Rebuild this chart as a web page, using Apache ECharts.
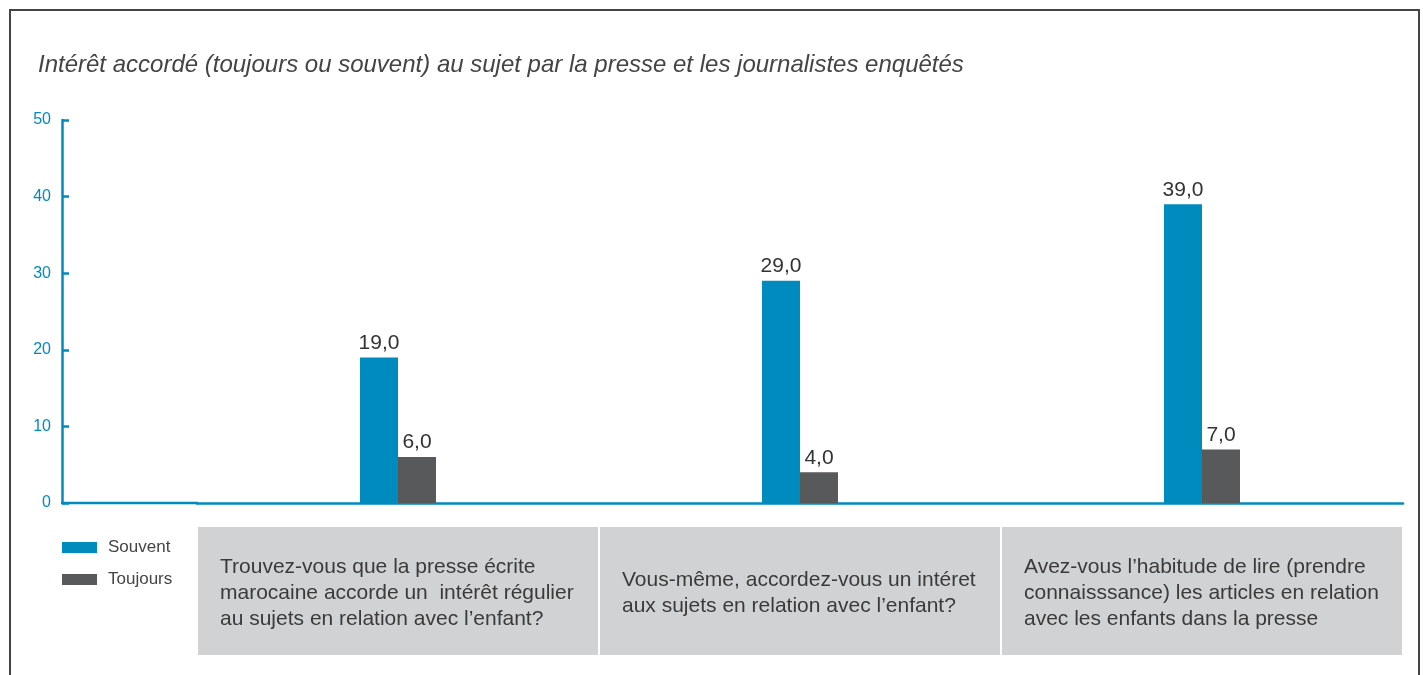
<!DOCTYPE html>
<html>
<head>
<meta charset="utf-8">
<script src="https://cdn.jsdelivr.net/npm/echarts@6/dist/echarts.min.js"></script>
<style>
	html, body { margin: 0; padding: 0; background: #fff; }
	#frame { position: absolute; left: 9px; top: 9px; width: 1411px; height: 700px; border: 2px solid #444; border-bottom: none; box-sizing: border-box; }
	#chart { width: 1423px; height: 675px; position: absolute; left: 0; top: 0; }
</style>
</head>
<body>
<div id="frame"></div>
<div id="chart"></div>
<script>
	var categories = [
		"Trouvez-vous que la presse écrite\nmarocaine accorde un  intérêt régulier\nau sujets en relation avec l’enfant?",
		"Vous-même, accordez-vous un intéret\naux sujets en relation avec l’enfant?",
		"Avez-vous l’habitude de lire (prendre\nconnaisssance) les articles en relation\navec les enfants dans la presse"
	];
	var souvent = [19, 29, 39];
	var toujours = [6, 4, 7];
	var yTicks = [0, 10, 20, 30, 40, 50];

	var blue = "#008bbf";
	var grey = "#58595b";
	var font = "'Liberation Sans', Arial, sans-serif";

	var chart = echarts.init(document.getElementById("chart"));

	// gray boxes under the axis: 3 lines vs 2 lines need different padding
	var catData = categories.map(function (c) {
		var lines = c.split("\n").length;
		var pad = lines === 3 ? [27, 22, 23, 22] : [40, 22, 36, 22];
		return { value: c, textStyle: { padding: pad } };
	});

	var valueLabel = {
		show: true,
		position: "top",
		distance: 4,
		color: "#333",
		fontSize: 21,
		fontFamily: font,
		formatter: function (p) { return p.value.toFixed(1).replace(".", ","); }
	};

	var option = {
		animation: false,
		title: {
			text: "Intérêt accordé (toujours ou souvent) au sujet par la presse et les journalistes enquêtés",
			left: 33,
			top: 48,
			textStyle: { color: "#444", fontSize: 24, fontStyle: "italic", fontWeight: "normal", fontFamily: font }
		},
		legend: {
			orient: "vertical",
			left: 57,
			top: 534,
			itemWidth: 35,
			itemHeight: 11,
			itemGap: 15,
			icon: "rect",
			textStyle: { color: "#444", fontSize: 17, fontFamily: font, padding: [0, 0, 0, 6] },
			data: ["Souvent", "Toujours"]
		},
		grid: { left: 197, right: 20, top: 120, bottom: 172 },
		xAxis: {
			type: "category",
			data: catData,
			axisLine: { lineStyle: { color: blue, width: 2.5 } },
			axisTick: { show: false },
			axisLabel: {
				interval: 0,
				margin: 24,
				width: 356,
				lineHeight: 26,
				fontSize: 21,
				color: "#3a3a3a",
				fontFamily: font,
				align: "center",
				backgroundColor: "#d1d2d4",
				rich: {
					l: { align: "left", fontSize: 21, lineHeight: 26, color: "#3a3a3a", fontFamily: font, width: 356 }
				},
				formatter: function (v) {
					return v.split("\n").map(function (s) { return "{l|" + s + "}"; }).join("\n");
				}
			}
		},
		yAxis: {
			type: "value",
			min: yTicks[0],
			max: yTicks[yTicks.length - 1],
			interval: 10,
			offset: 135,
			axisLine: { show: true, lineStyle: { color: blue, width: 2.5 } },
			axisTick: { show: true, inside: true, length: 7, lineStyle: { color: blue, width: 2.5 } },
			splitLine: { show: false },
			axisLabel: { color: blue, fontSize: 16, margin: 11, fontFamily: font }
		},
		series: [
			{ name: "Souvent", type: "bar", data: souvent, barWidth: 38, barGap: "0%", itemStyle: { color: blue }, label: valueLabel },
			{ name: "Toujours", type: "bar", data: toujours, barWidth: 38, itemStyle: { color: grey }, label: valueLabel }
		],
		graphic: [
			{ type: "line", shape: { x1: 61, y1: 503, x2: 198, y2: 503 }, style: { stroke: blue, lineWidth: 2.5 }, z: 10 }
		]
	};
	chart.setOption(option);
</script>
</body>
</html>
